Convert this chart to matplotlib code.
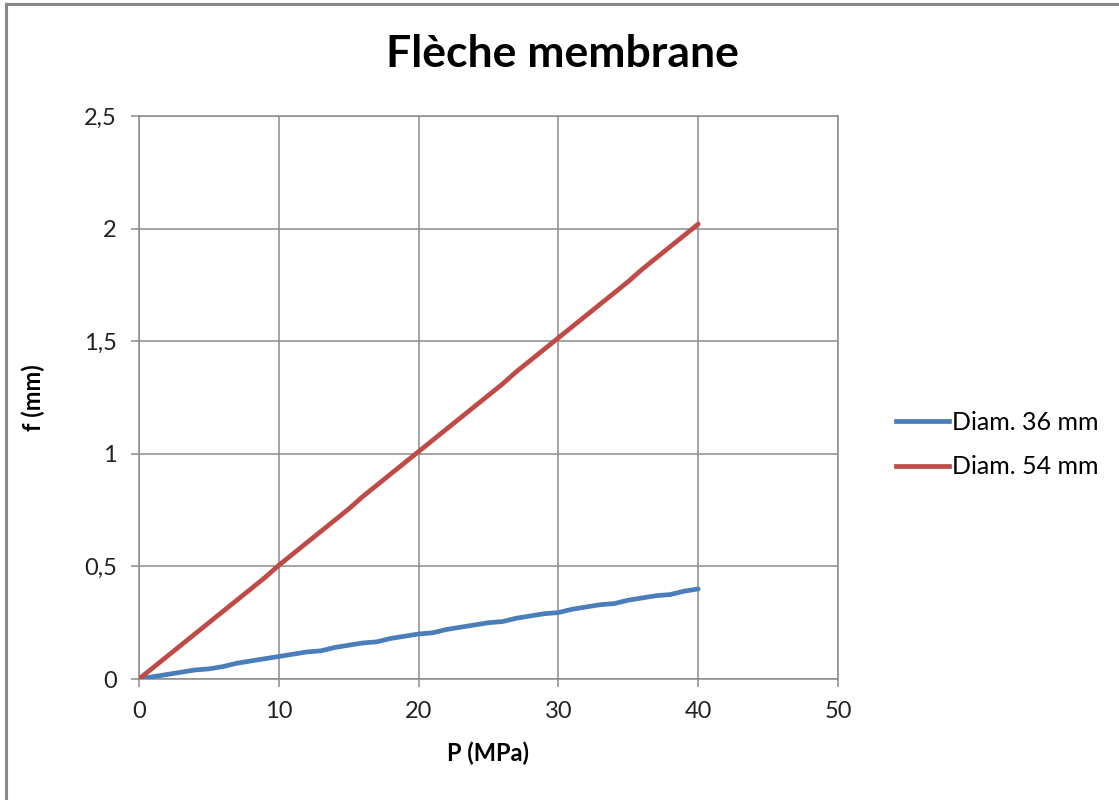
import matplotlib.pyplot as plt
from matplotlib.ticker import FuncFormatter
from matplotlib.lines import Line2D

# pression (MPa) et fleche (mm)
pression = list(range(0, 41))
fleche_36 = [0, 0.01, 0.02, 0.03, 0.04, 0.045, 0.055, 0.07, 0.08, 0.09,
             0.10, 0.11, 0.12, 0.125, 0.14, 0.15, 0.16, 0.165, 0.18, 0.19,
             0.20, 0.205, 0.22, 0.23, 0.24, 0.25, 0.255, 0.27, 0.28, 0.29,
             0.295, 0.31, 0.32, 0.33, 0.335, 0.35, 0.36, 0.37, 0.375, 0.39, 0.40]
fleche_54 = [0, 0.05, 0.10, 0.15, 0.20, 0.25, 0.30, 0.35, 0.40, 0.45,
             0.505, 0.555, 0.605, 0.655, 0.705, 0.755, 0.81, 0.86, 0.91, 0.96,
             1.01, 1.06, 1.11, 1.16, 1.21, 1.26, 1.31, 1.365, 1.415, 1.465,
             1.515, 1.565, 1.615, 1.665, 1.715, 1.765, 1.82, 1.87, 1.92, 1.97, 2.02]
series_labels = ["Diam. 36 mm", "Diam. 54 mm"]
x_ticks = [0, 10, 20, 30, 40, 50]
y_ticks = [0, 0.5, 1, 1.5, 2, 2.5]

plt.rcParams['font.family'] = ['Lato', 'DejaVu Sans']

fig = plt.figure(figsize=(11.19, 8), dpi=100)
ax = fig.add_axes([0.1242, 0.15125, 0.6247, 0.70375])

blue = '#4a7ebb'
red = '#be4b48'
grid_col = '#8c8c8c'

ax.plot(pression, fleche_36, color=blue, lw=3.4, solid_capstyle='round', zorder=3)
ax.plot(pression, fleche_54, color=red, lw=3.4, solid_capstyle='round', zorder=3)

ax.set_xlim(0, 50)
ax.set_ylim(0, 2.5)
ax.set_xticks(x_ticks)
ax.set_yticks(y_ticks)
ax.yaxis.set_major_formatter(FuncFormatter(lambda v, p: ('%g' % v).replace('.', ',')))
ax.grid(True, color=grid_col, lw=1.1)
ax.set_axisbelow(True)
for s in ax.spines.values():
    s.set_color(grid_col)
    s.set_linewidth(1.1)
ax.tick_params(direction='out', length=6, width=1.1, color=grid_col,
               labelsize=17, labelcolor='#222222', pad=10)

ax.set_xlabel("P (MPa)", fontsize=17, fontweight='bold', labelpad=14)
ax.set_ylabel("f (mm)", fontsize=17, fontweight='bold', labelpad=28)

fig.text(0.503, 0.932, "Flèche membrane", ha='center', va='center',
         fontsize=32, fontweight='bold')

handles = [Line2D([0], [0], color=blue, lw=3.4), Line2D([0], [0], color=red, lw=3.4)]
fig.legend(handles, series_labels, loc='center left', bbox_to_anchor=(0.781, 0.444),
           frameon=False, fontsize=18, handlelength=2.1, handletextpad=0.12,
           labelspacing=0.85)

# bordure grise du graphique
fig.add_artist(Line2D([0.0055, 0.0055], [0, 0.995], color='#888888', lw=2.2))
fig.add_artist(Line2D([0.0055, 1], [0.995, 0.995], color='#888888', lw=2.2))

fig.savefig("out.png", dpi=100)
